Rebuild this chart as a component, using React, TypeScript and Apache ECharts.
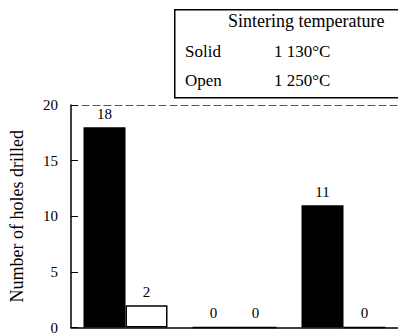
import React, { useEffect, useRef } from "react";
import * as echarts from "echarts";

const categories = ["A", "B", "C"];
const solidValues = [18, 0, 11];
const openValues = [2, 0, 0];
const yTicks = { min: 0, max: 20, interval: 5 };
const legendTitle = "Sintering temperature";
const legendRows = [
  ["Solid", "1 130°C"],
  ["Open", "1 250°C"],
];
const yAxisTitle = "Number of holes drilled";

const FONT = "Liberation Serif";

export default function App() {
  const ref = useRef<HTMLDivElement>(null);
  useEffect(() => {
    if (!ref.current) return;
    const chart = echarts.init(ref.current, undefined, { renderer: "svg" });
    const labelStyle = {
      show: true,
      position: "top" as const,
      distance: 6,
      color: "#000",
      fontFamily: FONT,
      fontSize: 15,
    };
    chart.setOption({
      animation: false,
      backgroundColor: "#fff",
      textStyle: { fontFamily: FONT },
      grid: { left: 67, right: -2, top: 105, bottom: 2, containLabel: false },
      xAxis: [
        {
          type: "category",
          data: categories,
          axisLine: { show: true, lineStyle: { color: "#000", width: 1.5 } },
          axisTick: { show: false },
          axisLabel: { show: false },
        },
        {
          type: "category",
          data: categories,
          position: "top",
          axisLine: { show: true, lineStyle: { color: "#555", width: 1, type: [7, 4] } },
          axisTick: { show: false },
          axisLabel: { show: false },
        },
      ],
      yAxis: {
        type: "value",
        min: yTicks.min,
        max: yTicks.max,
        interval: yTicks.interval,
        name: yAxisTitle,
        nameLocation: "middle",
        nameRotate: 90,
        nameGap: 45,
        nameTextStyle: { fontFamily: FONT, fontSize: 18, color: "#000" },
        axisLine: { show: true, lineStyle: { color: "#000", width: 1.5 } },
        axisTick: { show: true, inside: true, length: 7, lineStyle: { color: "#000" } },
        splitLine: { show: false },
        axisLabel: {
          fontFamily: FONT,
          fontSize: 15,
          color: "#000",
          margin: 13,
          padding: [0, 0, 8, 0],
        },
      },
      series: [
        {
          name: "Solid",
          type: "bar",
          data: solidValues,
          barWidth: 42,
          barGap: "0%",
          itemStyle: { color: "#000", borderColor: "#000", borderWidth: 1.5 },
          label: labelStyle,
        },
        {
          name: "Open",
          type: "bar",
          data: openValues,
          barWidth: 42,
          barGap: "0%",
          itemStyle: { color: "#fff", borderColor: "#000", borderWidth: 1.5 },
          label: labelStyle,
        },
      ],
      graphic: [
        {
          type: "rect",
          left: 174,
          top: 9,
          shape: { width: 240, height: 88 },
          style: { fill: "#fff", stroke: "#000", lineWidth: 1.5 },
          z: 10,
        },
        {
          type: "text",
          left: 228,
          top: 12,
          style: { text: legendTitle, fontFamily: FONT, fontSize: 18, fill: "#000" },
          z: 11,
        },
        ...legendRows.flatMap((row, i) => [
          {
            type: "text",
            left: 185,
            top: 43 + i * 29,
            style: { text: row[0], fontFamily: FONT, fontSize: 17, fill: "#000" },
            z: 11,
          },
          {
            type: "text",
            left: 274,
            top: 43 + i * 29,
            style: { text: row[1], fontFamily: FONT, fontSize: 17, fill: "#000" },
            z: 11,
          },
        ]),
      ],
    });
    return () => chart.dispose();
  }, []);
  return (
    <div
      ref={ref}
      style={{ position: "fixed", left: 0, top: 0, width: 398, height: 335 }}
    />
  );
}
